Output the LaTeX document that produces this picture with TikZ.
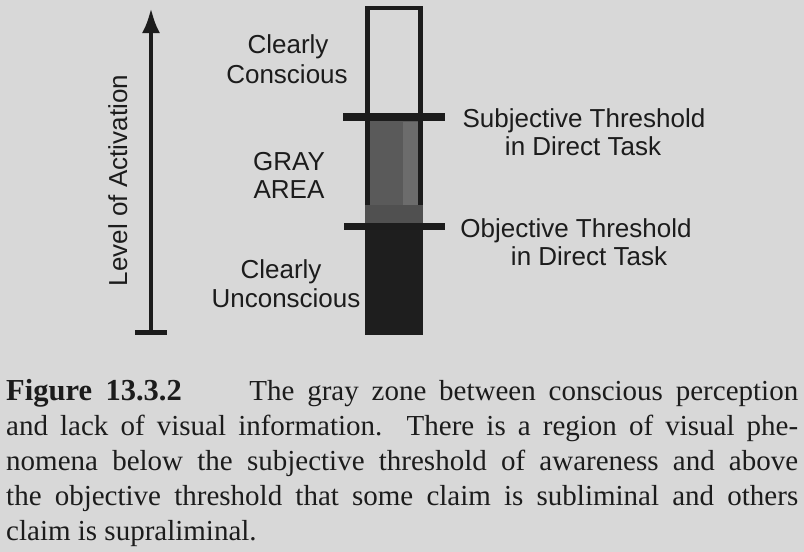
\documentclass[tikz,border=0pt]{standalone}
\usepackage{fontspec}
\setmainfont{Liberation Serif}
\newfontfamily\labsans{Liberation Sans}
\usetikzlibrary{arrows.meta}
\definecolor{bgc}{HTML}{D8D8D8}
\definecolor{ink}{HTML}{1C1C1C}
\definecolor{midgray}{HTML}{5A5A5A}
\definecolor{stripgray}{HTML}{6C6C6C}
\definecolor{lowgray}{HTML}{505050}
\definecolor{darkfill}{HTML}{1E1E1E}
\begin{document}
\begin{tikzpicture}[x=1pt,y=-1pt,
  lab/.style={font=\labsans\fontsize{26}{30}\selectfont, text=ink, inner sep=0pt, anchor=base},
  capt/.style={font=\fontsize{29}{35}\selectfont, text=ink, inner sep=0pt, anchor=base west},
  barline/.style={draw=ink, line width=#1},
]
\fill[bgc] (0,0) rectangle (804,552);
\useasboundingbox (0,0) rectangle (804,552);

% column
\fill[midgray] (365,117) rectangle (423,226);
\fill[stripgray] (403,122) rectangle (418,205);
\fill[lowgray] (365,205) rectangle (423,226);
\fill[darkfill] (365,226) rectangle (423,335);
\draw[ink, line width=4.5pt, line join=miter] (367.5,205) |- (420.5,8) -- (420.5,205);

% thresholds
\coordinate (s1) at (343,117);
\coordinate (s2) at (445,117);
\coordinate (o1) at (344,226);
\coordinate (o2) at (445,226);
\draw[barline=8pt] (s1) -- (s2);
\draw[barline=7pt] (o1) -- (o2);

% activation arrow
\coordinate (abot) at (151,332.5);
\coordinate (atop) at (151,8);
\coordinate (bl) at (135,332.5);
\coordinate (br) at (167,332.5);
\draw[ink, line width=4.5pt, -{Latex[length=25pt,width=18pt]}] (abot) -- (atop);
\draw[barline=5pt] (bl) -- (br);

% labels
\node[lab] (cc1) at (288,53) {Clearly};
\node[lab] (cc2) at (287,83) {Conscious};
\node[lab] (ga1) at (289,170) {GRAY};
\node[lab] (ga2) at (289,198) {AREA};
\node[lab] (cu1) at (281,278) {Clearly};
\node[lab] (cu2) at (286,307) {Unconscious};
\node[lab] (st1) at (584,127) {Subjective Threshold};
\node[lab] (st2) at (583,155) {in Direct Task};
\node[lab] (ot1) at (576,237) {Objective Threshold};
\node[lab] (ot2) at (589,265) {in Direct Task};
\node[lab, rotate=90] (lev) at (127,180.5) {Level of Activation};

% caption
\node[capt] (c1) at (6,400) {\hbox to 792pt{{\fontsize{30.5}{35}\selectfont\bfseries Figure 13.3.2}\hskip 0.8em plus 1em The gray zone between conscious perception}};
\node[capt] (c2) at (6,435) {\hbox to 792pt{and lack of visual information. There is a region of visual phe-}};
\node[capt] (c3) at (6,470) {\hbox to 792pt{nomena below the subjective threshold of awareness and above}};
\node[capt] (c4) at (6,505) {\hbox to 792pt{the objective threshold that some claim is subliminal and others}};
\node[capt] (c5) at (6,540) {claim is supraliminal.};
\end{tikzpicture}
\end{document}
